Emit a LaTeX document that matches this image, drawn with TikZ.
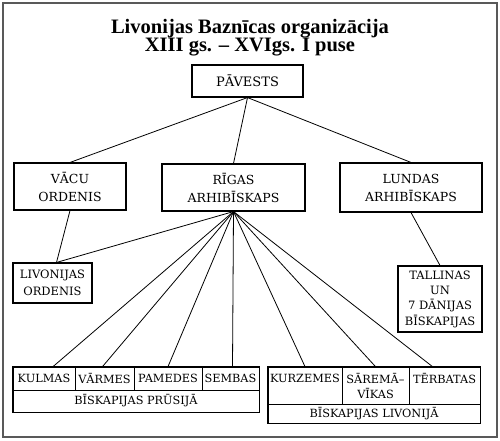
\documentclass[tikz,border=0pt]{standalone}
\usepackage{fontspec}
\setmainfont{Liberation Serif}
\newfontfamily\boxfont{DejaVu Serif}
\usetikzlibrary{positioning, calc}

\begin{document}
\begin{tikzpicture}[x=1pt, y=-1pt,
    box/.style={draw, line width=1.1pt, inner sep=0pt, align=center, font=\boxfont\fontsize{12.5}{18}\selectfont},
    cell/.style={draw, line width=0.8pt, inner sep=0pt, align=center, font=\boxfont\fontsize{11.3}{15}\selectfont},
    link/.style={line width=0.8pt}]
    \useasboundingbox (0,0) rectangle (500,440);

    % =========================================================
    % FRAME AND TITLE
    % =========================================================
    \draw[line width=1.4pt, gray!70!black] (3,3) rectangle (497,437);
    \node[anchor=base, font=\bfseries\fontsize{20.5}{22}\selectfont] (title1) at (250,33) {Livonijas Baznīcas organizācija};
    \node[anchor=base, font=\bfseries\fontsize{20.5}{22}\selectfont] (title2) at (250,51.5) {XIII gs. – XVIgs. I puse};

    % =========================================================
    % UPPER LEVELS
    % =========================================================
    \node[box, font=\boxfont\fontsize{13}{18}\selectfont, minimum width=111, minimum height=32] (pavests) at (247.5,81) {PĀVESTS};
    \node[box, minimum width=112, minimum height=47] (vacu) at (70,186.5) {VĀCU\\ORDENIS};
    \node[box, minimum width=143, minimum height=47] (rigas) at (233.5,187.5) {RĪGAS\\ARHIBĪSKAPS};
    \node[box, minimum width=142, minimum height=49] (lundas) at (411,187.5) {LUNDAS\\ARHIBĪSKAPS};

    \node[box, font=\boxfont\fontsize{11.5}{17}\selectfont, minimum width=79, minimum height=40] (livord) at (52.5,283) {LIVONIJAS\\ORDENIS};
    \node[box, font=\boxfont\fontsize{11.5}{15.3}\selectfont, minimum width=84, minimum height=66] (tallinas) at (440,299) {TALLINAS\\UN\\7 DĀNIJAS\\BĪSKAPIJAS};

    % =========================================================
    % BISHOPRICS IN PRUSSIA
    % =========================================================
    \node[cell, minimum width=62, minimum height=23] (kulmas) at (44,378.5) {KULMAS};
    \node[cell, minimum width=59, minimum height=23] (varmes) at (104.5,378.5) {VĀRMES};
    \node[cell, minimum width=68, minimum height=23] (pamedes) at (168,378.5) {PAMEDES};
    \node[cell, minimum width=57, minimum height=23] (sembas) at (230.5,378.5) {SEMBAS};
    \node[cell, minimum width=246, minimum height=22] (prusija) at (136,401) {BĪSKAPIJAS PRŪSIJĀ};
    \draw[line width=1.1pt] (kulmas.north west) rectangle (prusija.south east);

    % =========================================================
    % BISHOPRICS IN LIVONIA
    % =========================================================
    \node[cell, minimum width=74, minimum height=37] (kurzemes) at (305,385.5) {KURZEMES\\\mbox{}};
    \node[cell, minimum width=67, minimum height=37] (saremas) at (375.5,385.5) {SĀREMĀ–\\VĪKAS};
    \node[cell, minimum width=71, minimum height=37] (terbatas) at (444.5,385.5) {TĒRBATAS\\\mbox{}};
    \node[cell, minimum width=212, minimum height=19] (livonija) at (374,413.5) {BĪSKAPIJAS LIVONIJĀ};
    \draw[line width=1.1pt] (kurzemes.north west) rectangle (livonija.south east);

    % =========================================================
    % CONNECTORS
    % =========================================================
    \draw[link] (pavests.south) -- (vacu.north);
    \draw[link] (pavests.south) -- (rigas.north);
    \draw[link] (pavests.south) -- (lundas.north);
    \draw[link] (vacu.south) -- ([xshift=4pt]livord.north);
    \draw[link] (lundas.south) -- (tallinas.north);

    \draw[link] (rigas.south) -- ([xshift=4pt]livord.north);
    \draw[link] (rigas.south) -- ([xshift=9pt]kulmas.north);
    \draw[link] (rigas.south) -- ([xshift=-2pt]varmes.north);
    \draw[link] (rigas.south) -- (pamedes.north);
    \draw[link] (rigas.south) -- ([xshift=2pt]sembas.north);
    \draw[link] (rigas.south) -- (kurzemes.north);
    \draw[link] (rigas.south) -- (saremas.north);
    \draw[link] (rigas.south) -- ([xshift=-12pt]terbatas.north);
\end{tikzpicture}
\end{document}
